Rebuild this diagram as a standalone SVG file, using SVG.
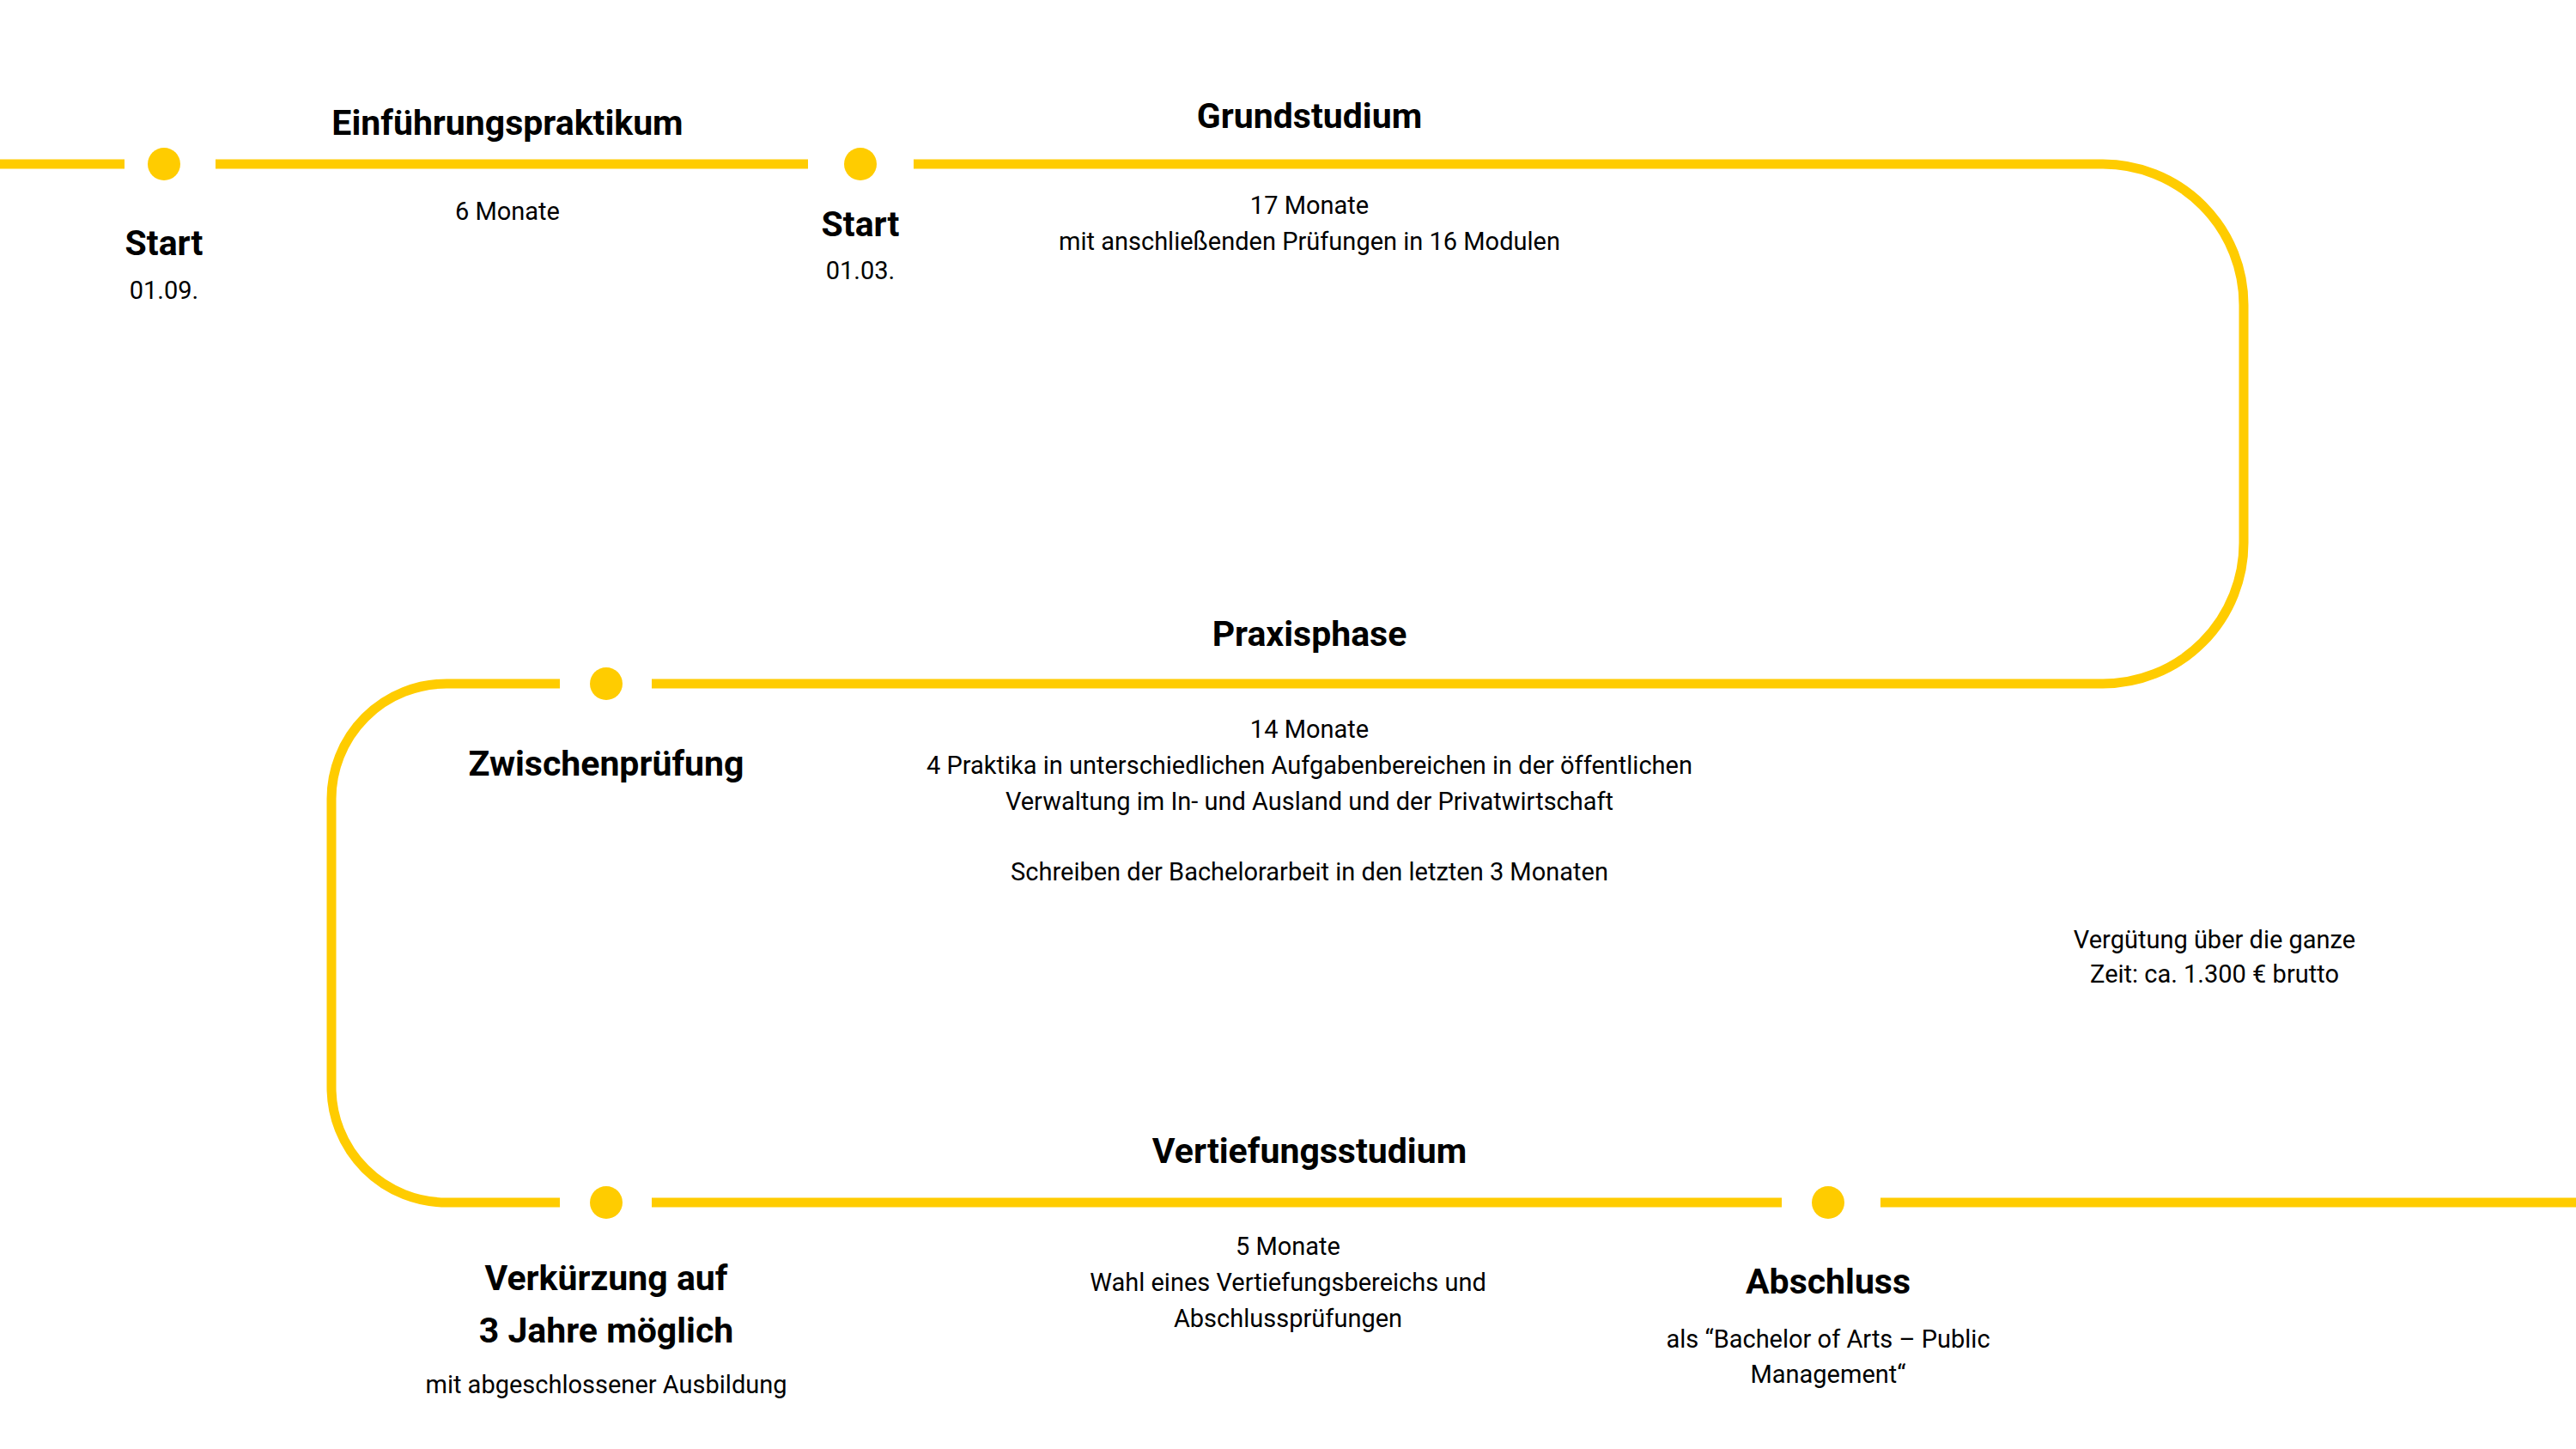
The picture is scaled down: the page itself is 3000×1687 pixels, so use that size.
<svg xmlns="http://www.w3.org/2000/svg" width="3000" height="1687" viewBox="0 0 3000 1687">
<style>
.ln{fill:none;stroke:#FFCC00;stroke-width:11}
.dot{fill:#FFCC00}
text{font-family:Roboto,"Liberation Sans",sans-serif;fill:#000;text-anchor:middle}
.h{font-weight:bold;font-size:41px}
.s{font-size:29px}
</style>
<rect width="3000" height="1687" fill="#fff"/>
<g id="connectors">
<path class="ln" d="M0 191H145"/>
<path class="ln" d="M251 191H941"/>
<path class="ln" d="M1064 191H2449A164 164 0 0 1 2613 355V632A164 164 0 0 1 2449 796H759"/>
<path class="ln" d="M652 796H520A134 134 0 0 0 386 930V1266A134 134 0 0 0 520 1400H652"/>
<path class="ln" d="M759 1400H2075"/>
<path class="ln" d="M2190 1400H3000"/>
</g>
<g id="start1"><circle class="dot" cx="191" cy="191" r="19"/><text class="h" x="191" y="297">Start</text><text class="s" x="191" y="348">01.09.</text></g>
<g id="einfuehrung"><text class="h" x="591" y="157">Einführungspraktikum</text><text class="s" x="591" y="256">6 Monate</text></g>
<g id="start2"><circle class="dot" cx="1002" cy="191" r="19"/><text class="h" x="1002" y="275">Start</text><text class="s" x="1002" y="325">01.03.</text></g>
<g id="grundstudium"><text class="h" x="1525" y="149">Grundstudium</text><text class="s" x="1525" y="249">17 Monate</text><text class="s" x="1525" y="291">mit anschließenden Prüfungen in 16 Modulen</text></g>
<g id="praxisphase"><text class="h" x="1525" y="752">Praxisphase</text><text class="s" x="1525" y="859">14 Monate</text><text class="s" x="1525" y="901">4 Praktika in unterschiedlichen Aufgabenbereichen in der öffentlichen</text><text class="s" x="1525" y="943">Verwaltung im In- und Ausland und der Privatwirtschaft</text><text class="s" x="1525" y="1025">Schreiben der Bachelorarbeit in den letzten 3 Monaten</text></g>
<g id="zwischen"><circle class="dot" cx="706" cy="796" r="19"/><text class="h" x="706" y="903">Zwischenprüfung</text></g>
<g id="verguetung"><text class="s" x="2579" y="1104">Vergütung über die ganze</text><text class="s" x="2579" y="1144">Zeit: ca. 1.300 € brutto</text></g>
<g id="vertiefung"><text class="h" x="1525" y="1354">Vertiefungsstudium</text><text class="s" x="1500" y="1461">5 Monate</text><text class="s" x="1500" y="1503">Wahl eines Vertiefungsbereichs und</text><text class="s" x="1500" y="1545">Abschlussprüfungen</text></g>
<g id="verkuerzung"><circle class="dot" cx="706" cy="1400" r="19"/><text class="h" x="706" y="1502">Verkürzung auf</text><text class="h" x="706" y="1563">3 Jahre möglich</text><text class="s" x="706" y="1622">mit abgeschlossener Ausbildung</text></g>
<g id="abschluss"><circle class="dot" cx="2129" cy="1400" r="19"/><text class="h" x="2129" y="1506">Abschluss</text><text class="s" x="2129" y="1569">als “Bachelor of Arts – Public</text><text class="s" x="2129" y="1610">Management“</text></g>
</svg>
